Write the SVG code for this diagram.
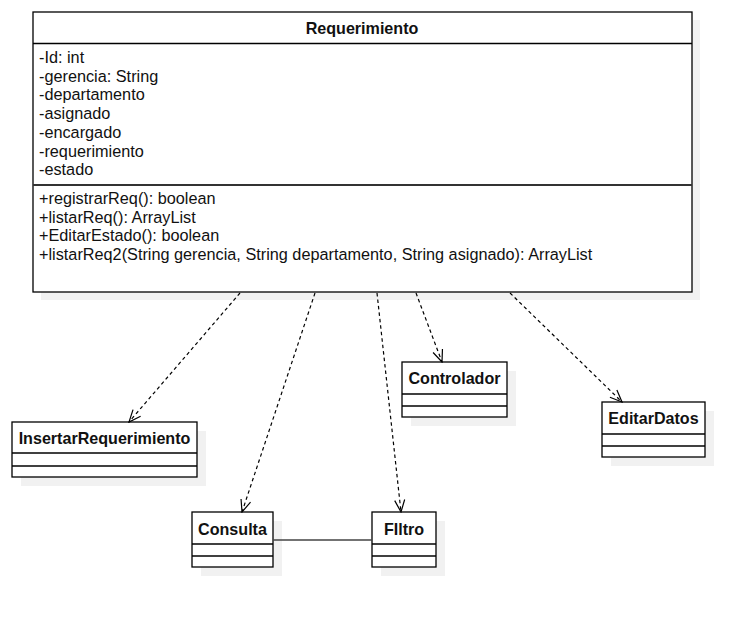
<svg xmlns="http://www.w3.org/2000/svg" width="753" height="617" viewBox="0 0 753 617">
<style>
.box{fill:#ffffff;stroke:#000000;stroke-width:1.3}
.shadow{fill:#f1f1f1;stroke:none}
.div{stroke:#000000;stroke-width:1.3}
.div2{stroke:#333333;stroke-width:2}
.name{font-family:"Liberation Sans",Arial,sans-serif;font-size:16.1px;font-weight:bold;fill:#111111;text-anchor:middle}
.txt{font-family:"Liberation Sans",Arial,sans-serif;font-size:16.25px;fill:#111111}
.dep{fill:none;stroke:#000000;stroke-width:1.2;stroke-dasharray:3.5 3;marker-end:url(#open)}
.assoc{fill:none;stroke:#444444;stroke-width:1.3}
</style>
<defs>
<marker id="open" viewBox="0 0 14 14" refX="13" refY="7" markerWidth="14" markerHeight="14" markerUnits="userSpaceOnUse" orient="auto">
<path d="M1,2 L13,7 L1,12" fill="none" stroke="#000000" stroke-width="1.2"/>
</marker>
</defs>
<rect width="753" height="617" fill="#ffffff"/>
<g id="Requerimiento">
<rect class="shadow" x="41" y="20" width="659" height="280"/>
<rect class="box" x="33" y="12" width="659" height="280"/>
<line class="div" x1="33" y1="43.5" x2="692" y2="43.5"/>
<line class="div2" x1="33" y1="185" x2="692" y2="185"/>
<text class="name" x="362" y="34">Requerimiento</text>
<text class="txt" x="39" y="63">-Id: int</text>
<text class="txt" x="39" y="81.7">-gerencia: String</text>
<text class="txt" x="39" y="100.4">-departamento</text>
<text class="txt" x="39" y="119.1">-asignado</text>
<text class="txt" x="39" y="137.8">-encargado</text>
<text class="txt" x="39" y="156.5">-requerimiento</text>
<text class="txt" x="39" y="175.2">-estado</text>
<text class="txt" x="39" y="204">+registrarReq(): boolean</text>
<text class="txt" x="39" y="222.7">+listarReq(): ArrayList</text>
<text class="txt" x="39" y="241.4">+EditarEstado(): boolean</text>
<text class="txt" x="39" y="260.1">+listarReq2(String gerencia, String departamento, String asignado): ArrayList</text>
</g>
<g id="InsertarRequerimiento">
<rect class="shadow" x="21" y="431" width="185" height="55"/>
<rect class="box" x="12" y="422" width="185" height="55"/>
<line class="div" x1="12" y1="453" x2="197" y2="453"/>
<line class="div" x1="12" y1="466" x2="197" y2="466"/>
<text class="name" x="104.5" y="444">InsertarRequerimiento</text>
</g>
<g id="Consulta">
<rect class="shadow" x="201" y="521" width="81" height="55"/>
<rect class="box" x="192" y="512" width="81" height="55"/>
<line class="div" x1="192" y1="544" x2="273" y2="544"/>
<line class="div" x1="192" y1="556" x2="273" y2="556"/>
<text class="name" x="232.5" y="535">Consulta</text>
</g>
<g id="Filtro">
<rect class="shadow" x="381" y="521" width="64" height="55"/>
<rect class="box" x="372" y="512" width="64" height="55"/>
<line class="div" x1="372" y1="544" x2="436" y2="544"/>
<line class="div" x1="372" y1="556" x2="436" y2="556"/>
<text class="name" x="404" y="535">FIltro</text>
</g>
<g id="Controlador">
<rect class="shadow" x="411" y="371" width="105" height="55"/>
<rect class="box" x="402" y="362" width="105" height="55"/>
<line class="div" x1="402" y1="394" x2="507" y2="394"/>
<line class="div" x1="402" y1="406" x2="507" y2="406"/>
<text class="name" x="454.5" y="384">Controlador</text>
</g>
<g id="EditarDatos">
<rect class="shadow" x="611" y="411" width="103" height="55"/>
<rect class="box" x="602" y="402" width="103" height="55"/>
<line class="div" x1="602" y1="434" x2="705" y2="434"/>
<line class="div" x1="602" y1="446" x2="705" y2="446"/>
<text class="name" x="653.5" y="424">EditarDatos</text>
</g>
<g id="connectors">
<path class="dep" d="M240,293 L129,422"/>
<path class="dep" d="M315,293 L242,512"/>
<path class="dep" d="M377,293 L401,512"/>
<path class="dep" d="M416,293 L442,362"/>
<path class="dep" d="M510,293 L622,402"/>
<path class="assoc" d="M273,540 L372,540"/>
</g>
</svg>
